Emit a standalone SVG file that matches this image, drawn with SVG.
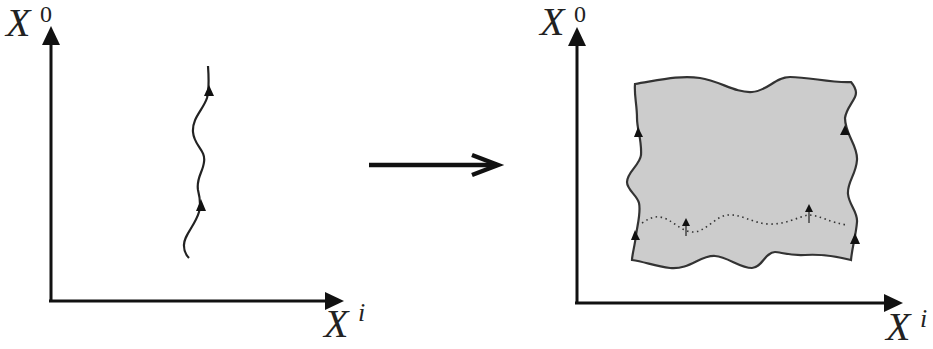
<svg xmlns="http://www.w3.org/2000/svg" width="933" height="349" viewBox="0 0 933 349">
<defs>
<style>
.ax{stroke:#111;stroke-width:3;fill:none}
.ah{fill:#111}
.lbl{font-family:"Liberation Serif",serif;font-style:italic;font-size:40px;fill:#222}
.sup{font-family:"Liberation Serif",serif;font-size:24px;fill:#222}
.supi{font-family:"Liberation Serif",serif;font-style:italic;font-size:26px;fill:#222}
.curve{stroke:#222;stroke-width:2.2;fill:none}
.sheet{fill:#cccccc;stroke:#333;stroke-width:2.2}
.dot{stroke:#333;stroke-width:1.6;fill:none;stroke-dasharray:1.5 3.5}
</style>
</defs>
<g id="left-axes">
<line class="ax" x1="51" y1="301" x2="51" y2="42"/>
<polygon class="ah" points="51,26 42,45 60,45"/>
<line class="ax" x1="49" y1="301" x2="328" y2="301"/>
<polygon class="ah" points="344,301 325,292 325,310"/>
<text class="lbl" x="6" y="36">X</text><text class="sup" x="40" y="22">0</text>
<text class="lbl" x="324" y="337">X</text><text class="supi" x="358" y="321">i</text>
</g>
<g id="worldline">
<path class="curve" d="M208,66 C209,80 209,90 207,98 C203,110 192,118 193,132 C194,146 206,150 204,162 C203,172 196,178 198,190 C200,198 201,205 199,212 C195,226 183,236 184,246 C184,252 187,256 189,258"/>
<polygon class="ah" points="209,85 204,96 214,96"/>
<polygon class="ah" points="201,199 196,211 206,211"/>
</g>
<g id="map-arrow">
<line x1="369" y1="165" x2="497" y2="165" stroke="#111" stroke-width="4.5"/>
<polyline points="472,155 498,165 472,175" fill="none" stroke="#111" stroke-width="4.5" stroke-linejoin="miter"/>
</g>
<g id="right-axes">
<line class="ax" x1="577" y1="303" x2="577" y2="44"/>
<polygon class="ah" points="577,27 568,46 586,46"/>
<line class="ax" x1="575" y1="303" x2="887" y2="303"/>
<polygon class="ah" points="903,303 884,294 884,312"/>
<text class="lbl" x="540" y="35">X</text><text class="sup" x="574" y="22">0</text>
<text class="lbl" x="886" y="340">X</text><text class="supi" x="920" y="327">i</text>
</g>
<g id="worldsheet">
<path class="sheet" d="M635,84 C660,80 680,75 700,78 C720,81 735,93 752,92 C768,91 775,77 790,77 C810,77 830,83 851,82 C856,88 857,93 855,97 C851,105 846,110 845,118 C845,135 858,145 857,160 C856,175 847,182 848,194 C849,205 858,212 857,222 C856,235 852,248 851,260 C835,256 820,254 805,255 C790,256 780,252 775,252 C765,252 762,268 752,268 C740,268 728,257 715,256 C700,255 690,270 670,268 C655,266 645,262 632,260 C632,255 635,245 636,235 C638,222 641,212 639,203 C637,195 627,190 627,182 C627,172 640,165 641,155 C642,140 637,130 637,118 C637,105 634,95 635,84 Z"/>
<path class="dot" d="M642,223 C648,219 654,216 660,217 C672,219 680,231 692,232 C705,233 715,216 728,215 C742,214 752,223 768,224 C785,225 798,217 808,215 C820,215 830,223 848,225"/>
<polygon class="ah" points="638,127 634,137 643,137"/>
<polygon class="ah" points="845,125 840,135 850,135"/>
<polygon class="ah" points="635,230 631,240 640,240"/>
<polygon class="ah" points="855,233 850,244 860,244"/>
<line x1="686" y1="236" x2="686" y2="224" stroke="#222" stroke-width="1.2"/>
<polygon class="ah" points="686,218 682,226 690,226"/>
<line x1="809" y1="223" x2="809" y2="210" stroke="#222" stroke-width="1.2"/>
<polygon class="ah" points="809,204 805,212 813,212"/>
</g>
</svg>
